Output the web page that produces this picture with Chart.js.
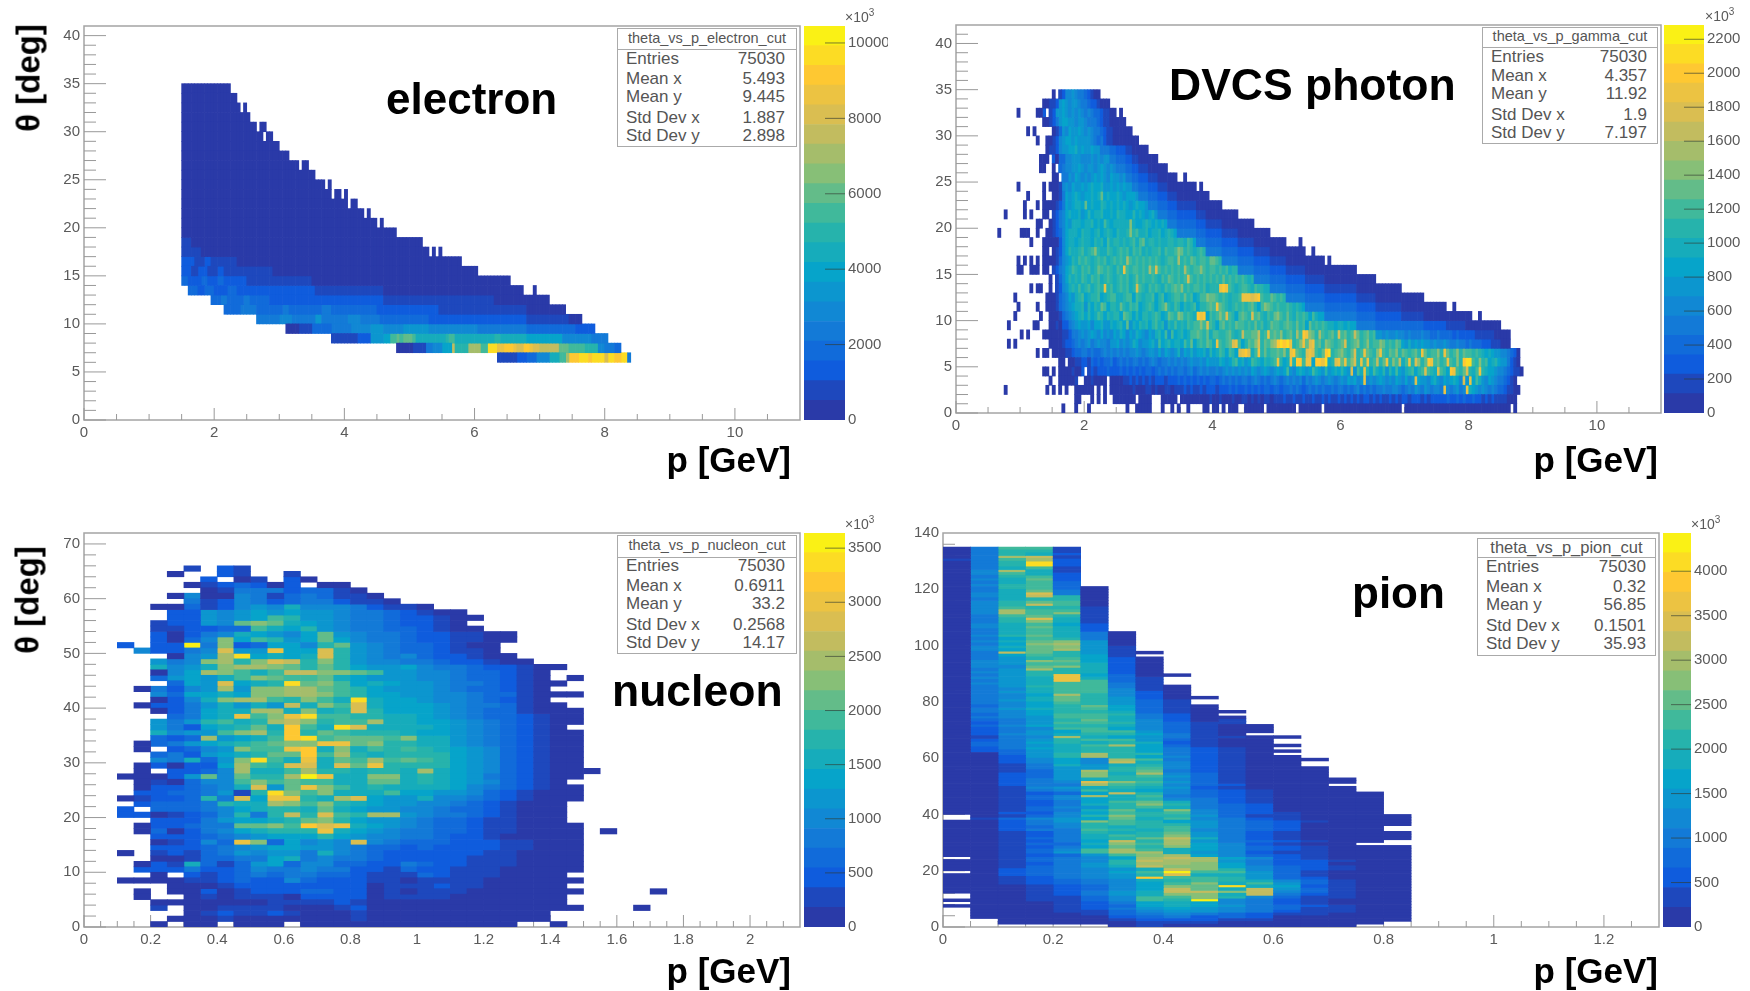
<!DOCTYPE html>
<html>
<head>
<meta charset="utf-8">
<title>theta vs p</title>
<script src="https://cdn.jsdelivr.net/npm/chart.js@4/dist/chart.umd.min.js"></script>
<style>
  html, body { margin: 0; background: #fff; }
  body { position: relative; width: 1750px; height: 991px; overflow: hidden; font-family: "Liberation Sans", Arial, sans-serif; filter: blur(0.5px); }
  canvas { position: absolute; }
  .txt { position: absolute; white-space: nowrap; }
  .big { font-weight: bold; color: #000; line-height: 1; }
  .stats { position: absolute; background: #fff; border: 1.5px solid #aaa; box-sizing: border-box; color: #555; }
  .stats div { position: absolute; white-space: nowrap; line-height: 1; }
  .stats .sep { height: 0; left: 0; right: 0; border-top: 1.5px solid #aaa; }
  sup { font-size: 10px; line-height: 0; }
</style>
</head>
<body>
<script>
// levels a..t = twentieths of the z range, "." = empty bin, a number repeats the letter
var birdColors = ['#2a3aa8', '#1e48bd', '#0f5cdd', '#116bda', '#137ad7', '#1188d4', '#0c96cf', '#06a4ca', '#16acbb', '#26b3ac',
  '#40b99b', '#63bc89', '#87bf77', '#a5bd6b', '#c2bc5f', '#dabe51', '#ecc342', '#fec832', '#fcdc24', '#faf115'];

var statNames = ['Entries', 'Mean x', 'Mean y', 'Std Dev x', 'Std Dev y'];
var electronStats = ['75030', '5.493', '9.445', '1.887', '2.898'];
var gammaStats = ['75030', '4.357', '11.92', '1.9', '7.197'];
var nucleonStats = ['75030', '0.6911', '33.2', '0.2568', '14.17'];
var pionStats = ['75030', '0.32', '56.85', '0.1501', '35.93'];

var electronZTicks = [0, 2000, 4000, 6000, 8000, 10000];
var gammaZTicks = [0, 200, 400, 600, 800, 1000, 1200, 1400, 1600, 1800, 2000, 2200];
var nucleonZTicks = [0, 500, 1000, 1500, 2000, 2500, 3000, 3500];
var pionZTicks = [0, 500, 1000, 1500, 2000, 2500, 3000, 3500, 4000];

// theta 34 down to 6, p bins of 0.05
var electronRows = [
  '.30a15', '.30a17', '.30a18.a', '.30a21', '.30a23.a2', '.30a25.a2', '.30a30', '.30a33', '.30a36.a2', '.30a41',
  '.30a44.a', '.30a46.a2.a', '.30a51.a2', '.30a56.a', '.30a60.a', '.30a66', '.30b3a71', '.30b6a70.a.a',
  '.30c4b3c2b8a69', '.30c3b2c3b3c2b15a63', '.30d2c4d2c3d2c7b20a61',
  '.32d3c2d3c4d3c24b21a43.3a',
  '.39d3e2d5e2d6c35b34a17',
  '.43d5e5d8e2d10e3d14c19b27a12',
  '.53e7f4e7g2e8f4e6d15c30b13a4',
  '.62a4b4d6e6f6g4f6g8f15e15d15c6',
  '.76b8c4g4h2k2lkl3ki9jk2i12j2i8h11f9e5',
  '.96a5b4e2f3h3oj4n4k2s3q2r3qp2r2qp2o6l3k5j4f2e3d2',
  '.127b6c3d3f4i3k2nr3s3rs4ps2r2s2e'
];

// theta 34 down to 0, p bins of 0.05
var gammaRows = [
  '.30a. bcffgfeedc baa',
  '.27a2b bcgh gfggfe edccbaaa',
  '.19a.5a2c.b cgghgfgfgf efeddcbbaa .a',
  '.27a2b ceghhggfgg feeedcbbaa aaa',
  '.22a.a.5 abdgfhgghg fgfeedcbba aaaaa',
  '.25a.2a2 bcfghhghgg ggfedecbba aaaaaaa',
  '.28ab bcfgghhigh gghgg e3d2c3b2a5',
  '.26a3. caddffgggf ffgfgfgg e2d3c2b2a6',
  '.26a2.2 a.deffgghg fggfghgfgf e3d2c2b3a6',
  '.30 aa.eegfhgf gfghghgfhg gfg e2d2c3b3a6.2a',
  '.19a.7a.a aabfgfhggh ghihhigghg hghgg e2d3c3b3a9.a',
  '.22a.4a.2 aabehghihg hhihilhihh ihghhhg e3d3c3b3a10',
  '.21a.3a.a3 abcehghiih lhihhjihih ihihghihhg e3d3c3b6a8',
  '.15a.5a.a.3a2. bcefhihhig hjhiijhhih jiihhjhihg hig e3d3c6b3a10',
  '.25a2.2a bcefhgiiih iijhihkihi iiiimihhij ihihih e3d6c3b5a10',
  '.13a.6a3.2a.2a2 bcdfhiiihj iihijhijih jiijmjkiij hiijhijih e6d3c5b5a10',
  '.23a.3a3 aacfhiihij iihjijhkij jijijkikli jjijiijjij jikjh e3d5c5b5a10.4a',
  '.27a2. abcfhjiijk ijkmjiikji jkjkikjkij ijjkikjjkm ljkjijkj e5d5c5b5a11.2a',
  '.19a.a.a.a.a3 abdfghjikj kjijkjkijk jkjnkjkjkj kjkjijkkjn jkjlkjkkjl lkj e5d5c5b5a12.a',
  '.19a2.2a3.a2. bcefhikjik jkijlkjkji kjqkjkkjkj nkpkjkjkjk jnkjkkmkjk kjkjkijj e5d5c5b6a16',
  '.29a .bdfhjijik jikjkijkji jkjkijljkj jkjikjlkjk jkpkjkjkjk jkjljkjkjk jij e5d5c6b6a16',
  '.23a.a2.2a .bcfgijiki jkijkjqjki jkjkijpkji kjkjikjklk mjkjkkjkij jjqrqkjijk kjikjjii e5d6c6b10a14',
  '.18a.9a2 abdefhgijk hijjkhijkk iijkkhkjij jkhjkhijkk jljkhikkml lkjkjijjkq qqpqrkjjlk jkj e6d6c10b6a15',
  '.19a.5a.2a2 abdefghiij gjhjilkhjj iljikjkhij kjhjkmjikj hjijkhjjkl kqlkjijkjk jkljhkmlkj kjjkjijih e6d10c6b8a14.2a',
  '.18a.7a.2a aabdefghij hjhikjhjij jhlkjhjhjj ijkjhilkjm ljkjirqrhk jkmkpkjhkl kjpkljikjl mkjljikjkj hkihh e10d6c8b7a15.2a',
  '.16a.7a2.3a abaccefghg ghfhhiggih ijhlgihjij hjkijgjiki jikjkkmkpk jhkljkjlkk jkjljkijlk kjklkjljkh ljkjkjiihi ihihh e6d15c7b6a11',
  '.20a.a.4a3 aaabbceefg fghgfhfgfh gihfhgihgf hgijhkgkhi jhikklkjli kkjjkljijo kkllojkqkl kmjkljnkrq mljnkjkljp kljkoljklj k ggfgffgf fefeeef eeddedd ddcdcccc cb6a5',
  '.16a.a.10a aaabccdefe fgefgffegg hfgfgihfgg higkhijhii hkilhjkjlk iqkjklpqkh jlkmpjlkmn rsrsqjkmql pqkljmlkjk lpjklmjkmj kkmljkjlk hgighgh ggfgffg feefeede dddcccbbb a3',
  '.25a.a2. aaaabbcdde ededdefefe fefeffgfef ggfhfhgfgi fhgighhigj hikjhkjhpq rpikqjljkk lkmjqrlkjp qpkjlrsjkl mkjlpjkqlk jmqkjlkmjl kjkljqljkk mjqljkmjlk kjkjihihgg ffedca',
  '.32a2.a abbc cbdcdcddec dededeeded efedeefefe fefgffgfhg ggihghjkhi ghkjihjijk qjhiqjrrkq qhrrqsijpq lqkmpjqkqj kojlqjmkoi kqjpmjlrqk ljkqkjmjrs skjmjkhijh ggecba',
  '.27a2. a.aaaabaac .bcbcccdcc cdcdcdcdcd dcdededede edefdefefe efefgfgfgf gfhgfghgfg hghkgfhihg hkihgjghih jhgpgkiqjh kihjgjhkhg ijkhjkpkji pkjhrqkjlp jikqjihhgf fedcbba',
  '.29a.2a aaaab.2 aabaaaa.aa aabbcbcbcb cbcccbcccd cdcdcdcdcd dcdededede edefededef edefefefdf efgfefgfef gfhghfgqfg fghgfgfhgf hfgphggfhi gfhghihfpg qhkigfhgfe edcba',
  '.15a.12a.a.a.a.2 a6.a.a.a2 aaaaabaaab babaabbabb bcbcbbcbcc cbcccdcdcc dcdcdcddcd dcddededcd edededdede ededefdede deefeeffed efegfegfef feqfefgefq ihgfgfefed dcbbaa',
  '.37a2.3a.a.a.2 a7.a4.3a5. aaaaaaaaab aabaaabaab babababbab bbcbbcbbcb bcbbcbcbbc bcbcbcbccb cbcbbcbcbc cbcccbcbcc cccdccdcdc cdccbcbcbb bbaaa',
  '.33a.3a.3a.11a.2a5.3a.2a.a.2a.4a2.a2.a.a3.2a6.a9.a7.a24.a33.a'
];

// theta 65 down to 0, p bins of 0.05; groups are k2-9, k10-19, k20-29, then the strays
var nucleonRows = [
  '.2 ....b.cb', '.2 ...a..cb ..b', '.2 .....c.a b.ca', '.2 ....abcd cac.aa', '.2 .....abe eecddba',
  '.2 ...afaaf ebdedbba', '.2 ....ebcf ecdeecbba', '.2 ..aadbcf gfifffecbb a', '.2 ...ccgfg hghggfeedc baa',
  '.2 ...ccgfg hkjggfeedc cbaa', '.2 ..bccgfl mlihgfeedc cba', '.2 ..bbccdd kihjgfeedd cbaa', '.2 ..cacefi hgfhlgfeed ccbbaa',
  '.2 ..cadfmh kjghlhfeed ccbbaa', '.2 c.cctemc dhhfjlgfed dcbaa', '.2 .fccefpg gqhhpjgfed dcbba', '.2 ...afgns hihipjgfef dccbaa',
  '.2 ..gefmnj mpojmjgffe edccbaa', '.2 ..ifgimn nmljljhggh feedccbaa', '.2 ..afhnmk ikoommlkgg ffeddcba', '.2 ..dghgik mlkklihggg ffeddcba.a',
  '.2 ...dhgph ijslmkhihg gfeedcbaa', '.2 .aecfgng mmnnlkjhgg gfeddcba', '.2 ..fdhhih mmnnmkjhhg gffeddbaaa', '.2 ..acfimn nkjmkisihh gffedcba',
  '.2 .accegig igoimkpihh hgfeedbaa', '.2 ..acehii nnimijpjhh hgfeddbaaa', '.2 ...dehiq kmqskkjjii hgfeddcbaa', '.2 ..gegjki jnomjkknii hhgfedcbaa',
  '.2 ..gechij lirkispiii ihgfedcba', '.2 ..ifggkm njrjlkjjji hhgfedcbaa', '.2 ..dcdngh ikrsklllkm iigfedcbaa', '.2 .adeghij klmmqqlmjj iigfedcbaa',
  '.2 .a.cdfgm kkqrimikjk jihgfdcbaa', '.2 ..decghi jllrknjijj jjhgfdcbaa', '.2 ..feidgm skiqilknkl kjhgfdcbaa', '.2 .acacchn kjppiplqjj jjhgfdcbaa',
  '.2 .a.ccdfn iiknjjijji nihgfdcbaa a', '.2 aaacglfl jjntqiimmi jihgedcbaa', '.2 .abadffk mklkkiilli jihgfdcba', '.2 .accdefi pglqmkijii iihfedcbaa',
  '.2 .ccddegb jsmkmiiikh hggfdcbaaa', '.2 abccdjep hqqjinphgg iffedcbaaa', '.2 .cdddeji inmkmjihgg ffedcbaaa', '.2 c.dddefh ijjilihggf feddcbaaa',
  '.2 ccabcdfj ejojpkjnng feedcbaaa', '.2 ..cccegh hijlmjhggf eddcbbaaa', '.2 .accdeel lmkrpqihgf eddcbbaaaa', '.2 .adacefh ijjjqihgfe eddcbbaaaa .a',
  '.2 ..cccdef ghhhjhgffe edccbaaaaa', '.2 ..abcfdq mdhfgfpfed ddcccbbaaa', '.2 ..cccdef ghhggfeddc dccccbbaaa', '.2 a.bcbdeg fggeifedcc ccccbbaaaa',
  '.2 ..aabdde ehiefeedcc cccbbbaaaa', '.2 .acbidbd ghdffddcce dccbbbaaaa', '.2 .ccceccd feefeeccbd ccbbbaaaaa', '.2 ..a.cbcd edeeddcbbb dcbbbaaaa',
  '.2 aaaabbcd ccfdcccbba bbbbaaaaaa', '.2 ...aaabc cccccccabb bcbbaaaaa', '.2 .a.aacab cccddccaba bbbaaaaaaa .4a', '.2 .a..abab bbaccccabb bbaaaaaaa',
  '.2 ..aaaaaa abbbbcbaaa aaaaaaaaa', '.2 ..b.aabb bbaaabcaaa aaaaaaaaaa .3a', '.2 ....abcb bcbaaabaaa aaaaaaaa', '.2 ...aaaba aaaaaabaaa aaaaaaaa',
  '.2 ..a.aa.a aa.aaaaaaa aaaaaa .2a'
];

// theta 134 down to 0, one letter per p bin of 0.05
var pionRows = [
  'aekkb', 'aejjb', 'aejic', 'aenob', 'beknc', 'aejsc', 'aejsc', 'aeikb', 'afnib', 'afkic', 'aejkc', 'afilc', 'aeikd', 'afjkd',
  'aejkda', 'aeilea', 'afipea', 'afioja', 'aeijja', 'afjlka', 'afjoka', 'afkjjb', 'afnkkb', 'afnkmb', 'aekljb', 'aejpib', 'aejmib', 'afikhc', 'afilic', 'aeikic',
  'aeikiea', 'afjliea', 'aehkjea', 'afilmga', 'aehmnga', 'afilmgb', 'afhlngb',
  'aeoljgba', 'aehkjhb', 'aegjkhca', 'afgmlhca', 'afgkkica', 'afflmica', 'aegnjica', 'afgjjica',
  'aegjqhdaa', 'afgiqidb', 'aegiqkdb', 'afgikkeb', 'aegjkkeba', 'aefikkfba', 'aegikkfca', 'aefhnjfca',
  'aefiljgcaa', 'aegiljgdb', 'aefhkjgdb', 'adfhjlhdba', 'aegijkhdba', 'aefhjjidbaa', 'adfhkkjeca', 'aefgkkiecaa',
  'adegjlifcab', 'acegkkjfdbb', 'adfhjjifdbaa', 'acefkkhfdbaa', 'aceghkkgdbaa', 'acfgijjheba', 'abefnihgebbaa', 'acegjkkgdbaa',
  'adehjijicbaa', 'adegiknhdbaaa', 'acehijjhecba', 'acdgijjhecbaa', 'aadgjnjjecba', 'aacgjnjhfcbaa',
  'aacfhfnkecbaaa', 'aacfhfoifcbaa', 'aabeigijfcbaa', 'aabeggjkfcbaaa', 'aabdgnjlecbaaa', 'aacdgminfdbaaa', 'aacdgmjkgdbaaa',
  'aacegijjfdbaaaa', 'aacefpmkgdbaaaa', 'aaceenkjfdcaaa', 'aabfgijigcbaaaa', 'aabefkihfdcbaaa',
  'aabcdhojfdcbaaaa', 'aabdfnikedcbaaaa', 'aabdfhijfecbaaaa', 'aabcehkliecbaaaa', 'aabceijmjedcaaaa', 'aabdfgjkiedcaaaa', 'aabdeilimfdcaaaa', 'aaccfhkjkfdcbaaa',
  '.abdfjmjjgdbbaaaa', '.bdfghlikfecbaaaa', 'aacegmkjhgedcbaaa', 'aacefjkjjgedcaaaa', 'aacdfjijkgedcaaa.', 'aaceekjikfedcaaa.',
  'aabcejijlgecbaaaa', 'aabceikjmgecbaaaa', 'aabdeijloiecbaaaa', 'aabcehojngedcbaa.', 'aabddimknhfcbaa.',
  'aabcehljmhfdcbaaa', 'aabdfknkihfdcbaaa', 'aabdgknnigfcbbaaa', 'aabcdgkmnhfdcbaaa', '.abdefhnonhfcbaaa', 'aabdefjonngeccbaa', 'aabcegjnnmheccaaa', 'aabdegiommhfdcbaa',
  'aacdefgiomjfdcbaa', '.acdefhktkkgdbaaa', 'aacdefgjpiigdbaaa', 'aabcefgrkkjgdcaaa', 'aabcdefijkjifdbaa', 'aabcdefhkmikgdbaa',
  'aaabcdfhmlsihcbaa', 'aaabcdfholiogdbaa', 'aaabcegioomofdbaa', '.aabcegimmioecbaa', '.aabbdfkkmjfdbbaa', 'aaabbdfkjtfecbaaa',
  '.aaabcehihfecbaaa', 'aaaabcdhihgedcbaa', '.aaabceghgfedbbaa', '.aaabbdfggfecbbaa', '.aaaabdefedcbbaaa', '.aaaaacdecdcaaaaa',
  '..aaaabcccbbaaaaa', '..aaaaabbbaaaaaa.', '......abaaaaaaa..'
];

function decodeRow(text) {
  var cells = [];
  text.replace(/([.a-t])(\d*)/g, function (m, letter, count) {
    var n = count ? parseInt(count) : 1;
    for (var i = 0; i < n; i++) cells.push(letter);
  });
  return cells;
}

function niceLabel(v) {
  return String(+(+v).toFixed(2));
}

// frame and inward ticks, drawn under the cells like in the original
var frameTicks = {
  id: 'frameTicks',
  beforeDatasetsDraw: function (chart, args, o) {
    var c = chart.ctx, a = chart.chartArea, sx = chart.scales.x, sy = chart.scales.y, i, v, len;
    c.save();
    c.strokeStyle = '#a4a4a4';
    c.lineWidth = 1.5;
    c.strokeRect(a.left, a.top, a.right - a.left, a.bottom - a.top);
    c.lineWidth = 1;
    c.strokeStyle = '#999';
    c.beginPath();
    for (i = 0; (v = i * o.xMinor) < sx.max; i++) {
      len = (i % o.xEvery === 0) ? 12 : 6;
      c.moveTo(sx.getPixelForValue(v), a.bottom);
      c.lineTo(sx.getPixelForValue(v), a.bottom - len);
    }
    for (i = 0; (v = i * o.yMinor) < sy.max; i++) {
      len = (i % o.yEvery === 0) ? 22 : 12;
      c.moveTo(a.left, sy.getPixelForValue(v));
      c.lineTo(a.left + len, sy.getPixelForValue(v));
    }
    c.stroke();
    c.restore();
  }
};

var barTicks = {
  id: 'barTicks',
  afterDatasetsDraw: function (chart) {
    var c = chart.ctx, a = chart.chartArea, sy = chart.scales.y;
    c.save();
    c.strokeStyle = 'rgba(50,60,50,0.65)';
    c.lineWidth = 1;
    c.beginPath();
    sy.ticks.forEach(function (t) {
      if (t.value === 0) return;
      var y = sy.getPixelForValue(t.value);
      c.moveTo(a.right - 20, y);
      c.lineTo(a.right, y);
    });
    c.stroke();
    c.restore();
  }
};

function addCanvas(left, top, w, h) {
  var cv = document.createElement('canvas');
  cv.width = w;
  cv.height = h;
  cv.style.left = left + 'px';
  cv.style.top = top + 'px';
  cv.style.width = w + 'px';
  cv.style.height = h + 'px';
  document.body.appendChild(cv);
  return cv;
}

function addText(html, css, cls) {
  var d = document.createElement('div');
  d.className = cls || 'txt';
  d.innerHTML = html;
  d.style.cssText = css;
  document.body.appendChild(d);
  return d;
}

function drawHistogram(p) {
  var datasets = [];
  birdColors.forEach(function (col) {
    datasets.push({
      data: [], backgroundColor: col, borderWidth: 0, grouped: false,
      barPercentage: 1, categoryPercentage: 1
    });
  });
  p.rows.forEach(function (row, r) {
    var theta = p.topTheta - r;
    decodeRow(row).forEach(function (letter, k) {
      if (letter === '.') return;
      datasets[letter.charCodeAt(0) - 97].data.push({ x: (k + 0.5) * 0.05, y: [theta, theta + 1] });
    });
  });

  var padTop = 20, below = 40;
  var cv = addCanvas(p.canvasLeft, p.top - padTop, p.right - p.canvasLeft + 2, p.bottom - p.top + padTop + below);
  new Chart(cv, {
    type: 'bar',
    data: { datasets: datasets },
    plugins: [frameTicks],
    options: {
      responsive: false,
      animation: false,
      devicePixelRatio: 1,
      layout: { padding: { top: padTop, right: 2, left: 0, bottom: 0 } },
      plugins: {
        legend: { display: false },
        tooltip: { enabled: false },
        frameTicks: p.ticks
      },
      scales: {
        x: {
          type: 'linear', min: 0, max: p.xMax, offset: false,
          grid: { display: false, drawTicks: false, offset: false },
          border: { display: false },
          afterFit: function (s) { s.height = below; },
          ticks: {
            stepSize: p.xStep, includeBounds: false, autoSkip: false, maxRotation: 0, padding: 4,
            color: '#5a5a5a', font: { size: 15, family: 'Liberation Sans' }, callback: niceLabel
          }
        },
        y: {
          type: 'linear', min: 0, max: p.yMax,
          grid: { display: false, drawTicks: false },
          border: { display: false },
          afterFit: function (s) { s.width = p.left - p.canvasLeft; },
          ticks: {
            stepSize: p.yStep, includeBounds: false, autoSkip: false, padding: 4,
            color: '#5a5a5a', font: { size: 15, family: 'Liberation Sans' }, callback: niceLabel
          }
        }
      }
    }
  });
}

function drawColorBar(b) {
  var padTop = 20, below = 14;
  var step = b.zMax / birdColors.length;
  var datasets = birdColors.map(function (col, i) {
    return {
      data: [[i * step, (i + 1) * step]], backgroundColor: col, borderWidth: 0,
      grouped: false, barPercentage: 1, categoryPercentage: 1
    };
  });
  var cv = addCanvas(b.left, b.top - padTop, b.canvasW, b.bottom - b.top + padTop + below);
  new Chart(cv, {
    type: 'bar',
    data: { labels: [''], datasets: datasets },
    plugins: [barTicks],
    options: {
      responsive: false,
      animation: false,
      devicePixelRatio: 1,
      layout: { padding: { top: padTop, bottom: below, left: 0, right: 0 } },
      plugins: { legend: { display: false }, tooltip: { enabled: false } },
      scales: {
        x: { display: false },
        y: {
          position: 'right', min: 0, max: b.zMax,
          grid: { display: false, drawTicks: false },
          border: { display: false },
          afterFit: function (s) { s.width = b.canvasW - b.width; },
          afterBuildTicks: function (s) {
            s.ticks = b.zTicks.map(function (v) { return { value: v }; });
          },
          ticks: {
            autoSkip: false, padding: 3,
            color: '#5a5a5a', font: { size: 15, family: 'Liberation Sans' }, callback: function (v) { return String(v); }
          }
        }
      }
    }
  });
  addText('&times;10<sup>3</sup>', 'left:' + b.expX + 'px;top:' + (b.top - 16) + 'px;font-size:14px;color:#5a5a5a;line-height:14px;');
}

function drawStats(s) {
  var box = addText('', 'left:' + s.left + 'px;top:' + s.top + 'px;width:' + (s.right - s.left) + 'px;height:' + (s.bottom - s.top) + 'px;', 'stats');
  var put = function (html, css) {
    var d = document.createElement('div');
    d.innerHTML = html;
    d.style.cssText = css;
    box.appendChild(d);
    return d;
  };
  put(s.title, 'left:0;right:0;text-align:center;font-size:' + s.titleSize + 'px;top:' + (s.titleY - s.top - s.titleSize / 2 - 1) + 'px;');
  var sep = put('', 'top:' + (s.sepY - s.top) + 'px;');
  sep.className = 'sep';
  statNames.forEach(function (name, i) {
    var y = s.rowY[i] - s.top - 10;
    put(name, 'left:' + s.pad + 'px;top:' + y + 'px;font-size:17px;');
    put(s.values[i], 'right:' + s.padR + 'px;top:' + y + 'px;font-size:17px;');
  });
}

drawHistogram({ rows: electronRows, topTheta: 34, canvasLeft: 40, left: 84, right: 800, top: 26, bottom: 420, xMax: 11, yMax: 41, xStep: 2, yStep: 5,
  ticks: { xMinor: 0.5, xEvery: 4, yMinor: 1, yEvery: 5 } });
drawHistogram({ rows: gammaRows, topTheta: 34, canvasLeft: 900, left: 956, right: 1661, top: 25, bottom: 413, xMax: 11, yMax: 42, xStep: 2, yStep: 5,
  ticks: { xMinor: 0.5, xEvery: 4, yMinor: 1, yEvery: 5 } });
drawHistogram({ rows: nucleonRows, topTheta: 65, canvasLeft: 40, left: 84, right: 800, top: 533, bottom: 927, xMax: 2.15, yMax: 72, xStep: 0.2, yStep: 10,
  ticks: { xMinor: 0.05, xEvery: 4, yMinor: 2, yEvery: 5 } });
drawHistogram({ rows: pionRows, topTheta: 134, canvasLeft: 895, left: 943, right: 1659, top: 533, bottom: 927, xMax: 1.3, yMax: 140, xStep: 0.2, yStep: 20,
  ticks: { xMinor: 0.05, xEvery: 4, yMinor: 4, yEvery: 5 } });

drawColorBar({ left: 804, width: 41, canvasW: 84, top: 26, bottom: 420, zMax: 10450, zTicks: electronZTicks, expX: 845 });
drawColorBar({ left: 1664, width: 40, canvasW: 86, top: 25, bottom: 413, zMax: 2284, zTicks: gammaZTicks, expX: 1705 });
drawColorBar({ left: 804, width: 41, canvasW: 84, top: 533, bottom: 927, zMax: 3640, zTicks: nucleonZTicks, expX: 845 });
drawColorBar({ left: 1663, width: 28, canvasW: 87, top: 533, bottom: 927, zMax: 4430, zTicks: pionZTicks, expX: 1691 });

drawStats({ title: 'theta_vs_p_electron_cut', titleSize: 14.5, values: electronStats, left: 617, right: 797, top: 28, bottom: 147, titleY: 38, sepY: 48, rowY: [59, 79, 97, 118, 136], pad: 8, padR: 11 });
drawStats({ title: 'theta_vs_p_gamma_cut', titleSize: 14.5, values: gammaStats, left: 1482, right: 1658, top: 27, bottom: 144, titleY: 36, sepY: 46, rowY: [57, 76, 94, 115, 133], pad: 8, padR: 10 });
drawStats({ title: 'theta_vs_p_nucleon_cut', titleSize: 14.5, values: nucleonStats, left: 617, right: 797, top: 535, bottom: 654, titleY: 545, sepY: 556, rowY: [566, 586, 604, 625, 643], pad: 8, padR: 11 });
drawStats({ title: 'theta_vs_p_pion_cut', titleSize: 16.5, values: pionStats, left: 1477, right: 1656, top: 538, bottom: 656, titleY: 547, sepY: 556, rowY: [567, 587, 605, 626, 644], pad: 8, padR: 9 });

addText('electron', 'left:386px;top:77px;font-size:44px;', 'txt big');
addText('DVCS photon', 'left:1169px;top:63px;font-size:44.5px;', 'txt big');
addText('nucleon', 'left:612px;top:669px;font-size:44.5px;', 'txt big');
addText('pion', 'left:1352px;top:571px;font-size:44px;', 'txt big');

addText('p [GeV]', 'right:' + (1750 - 791) + 'px;top:442px;font-size:35px;', 'txt big');
addText('p [GeV]', 'right:' + (1750 - 1658) + 'px;top:442px;font-size:35px;', 'txt big');
addText('p [GeV]', 'right:' + (1750 - 791) + 'px;top:953px;font-size:35px;', 'txt big');
addText('p [GeV]', 'right:' + (1750 - 1658) + 'px;top:953px;font-size:35px;', 'txt big');
addText('θ [deg]', 'left:28px;top:78px;font-size:33px;transform:translate(-50%,-50%) rotate(-90deg);', 'txt big');
addText('θ [deg]', 'left:27px;top:600px;font-size:33px;transform:translate(-50%,-50%) rotate(-90deg);', 'txt big');
</script>
</body>
</html>
